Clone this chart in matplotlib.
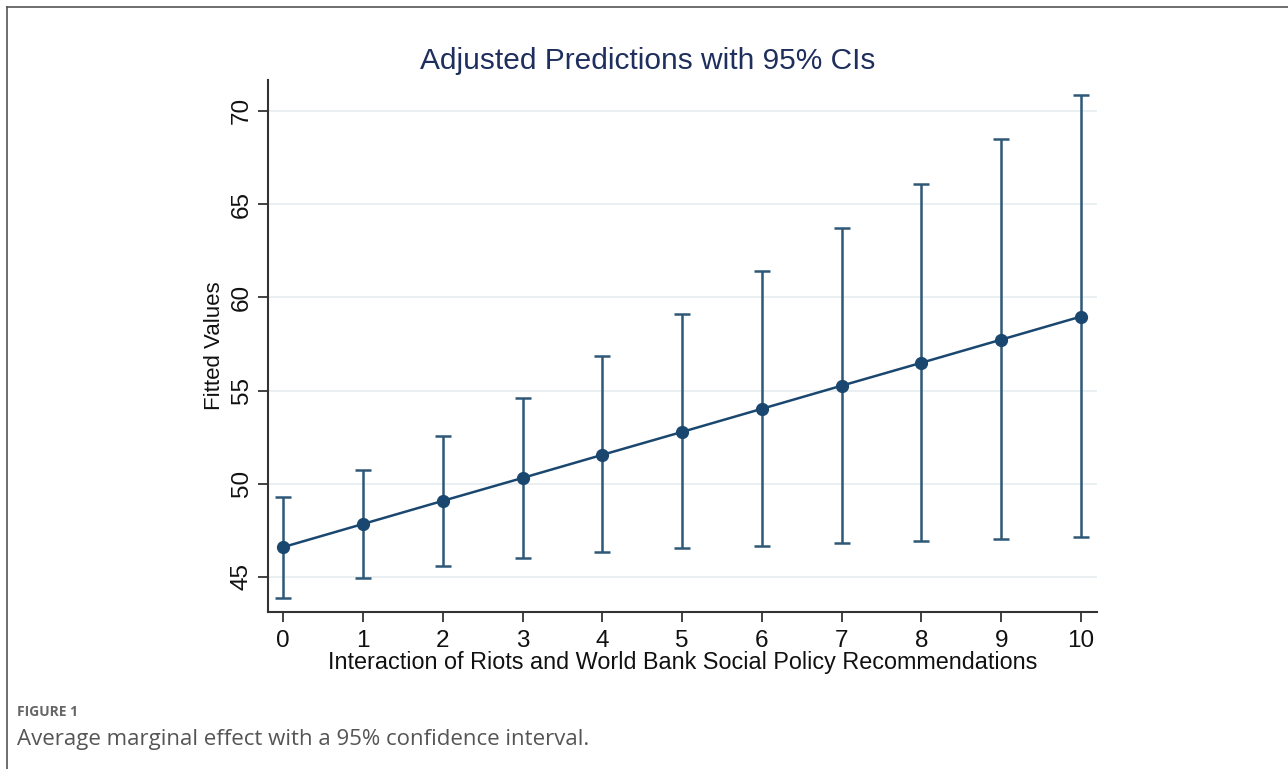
import numpy as np
import matplotlib.pyplot as plt
from matplotlib.lines import Line2D

# margins output: predicted value and 95% CI at each level of the interaction
levels = [0, 1, 2, 3, 4, 5, 6, 7, 8, 9, 10]
fitted = [46.6, 47.84, 49.08, 50.31, 51.55, 52.78, 54.02, 55.26, 56.49, 57.73, 58.97]
ci_low = [43.87, 44.93, 45.59, 46.02, 46.34, 46.56, 46.66, 46.82, 46.93, 47.04, 47.15]
ci_high = [49.29, 50.74, 52.56, 54.60, 56.86, 59.11, 61.42, 63.72, 66.08, 68.50, 70.86]
yticks = [45, 50, 55, 60, 65, 70]

navy = '#1a476f'
plt.rcParams['font.family'] = ['Liberation Sans', 'DejaVu Sans']

fig = plt.figure(figsize=(12.88, 7.69), dpi=100)
ax = fig.add_axes([0.2081, 0.2042, 0.8517 - 0.2081, 0.896 - 0.2042])

fitted = np.array(fitted)
yerr = [fitted - np.array(ci_low), np.array(ci_high) - fitted]

for y in yticks:
    ax.axhline(y, color='#e8eef0', lw=1.3, zorder=0)

ax.errorbar(levels, fitted, yerr=yerr, fmt='none', ecolor='#2e5877',
            elinewidth=1.8, capsize=5.5, capthick=1.8, zorder=2)
ax.plot(levels, fitted, color=navy, lw=1.8, marker='o', markersize=8.5,
        markerfacecolor=navy, markeredgecolor=navy, zorder=3)

ax.set_xlim(-0.19, 10.2)
ax.set_ylim(43.12, 71.66)
ax.set_xticks(levels)
ax.set_yticks(yticks)
ax.set_yticklabels([str(v) for v in yticks], rotation=90, va='center')

for side in ['top', 'right']:
    ax.spines[side].set_visible(False)
for side in ['left', 'bottom']:
    ax.spines[side].set_color('#333333')
    ax.spines[side].set_linewidth(1.5)

ax.tick_params(axis='both', direction='out', length=7, width=1.3,
               color='#333333', labelsize=17.5, labelcolor='#111111', pad=4)
ax.tick_params(axis='x', pad=6)

ax.set_xlabel('Interaction of Riots and World Bank Social Policy Recommendations',
              fontsize=16.8, color='#111111', labelpad=-1)
ax.set_ylabel('Fitted Values', fontsize=16, color='#111111', labelpad=4)

fig.text(0.5025, 0.921, 'Adjusted Predictions with 95% CIs', ha='center',
         va='center', fontsize=21.5, color='#1e2f5e')

# page frame and figure caption
fig.add_artist(Line2D([0.0055, 0.0055], [0.0, 0.991], transform=fig.transFigure,
                      color='#555555', lw=1.2))
fig.add_artist(Line2D([0.0055, 1.0], [0.991, 0.991], transform=fig.transFigure,
                      color='#555555', lw=1.2))
fig.text(0.0132, 0.074, 'FIGURE 1', fontsize=10, color='#666666',
         fontweight='bold', family=['Open Sans', 'DejaVu Sans'], va='center')
fig.text(0.0132, 0.038, 'Average marginal effect with a 95% confidence interval.',
         fontsize=16, color='#555555', family=['Open Sans', 'DejaVu Sans'],
         va='center')

fig.savefig('out.png', dpi=100)
